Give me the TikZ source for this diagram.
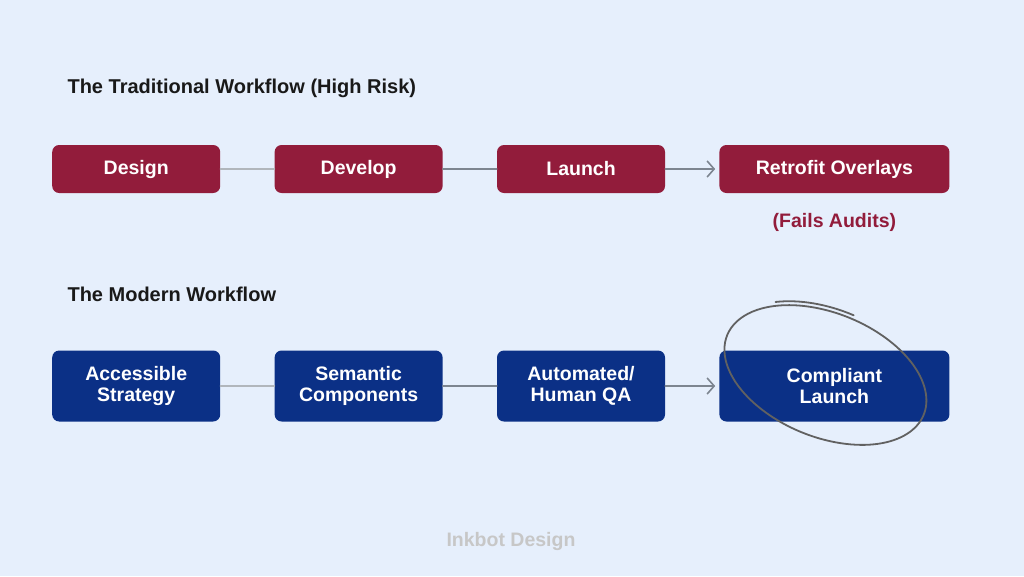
\documentclass[tikz,border=0pt]{standalone}
\usepackage{fontspec}
\setmainfont{Liberation Sans}
\usepackage{xcolor}
\usetikzlibrary{arrows.meta,positioning}
\definecolor{bgblue}{HTML}{E6EFFC}
\definecolor{oldred}{HTML}{921C3B}
\definecolor{newblue}{HTML}{0B3086}
\definecolor{penGray}{HTML}{7D8590}

\begin{document}
\begin{tikzpicture}[
  x=1pt, y=-1pt,
  node distance=6mm and 54pt,
  title/.style={anchor=west, font=\bfseries\fontsize{20}{24}\selectfont, text=black!90},
  oldbox/.style={fill=oldred, rounded corners=7pt, align=center, text=white, minimum width=168pt, minimum height=48pt, font=\bfseries\fontsize{19.5}{22}\selectfont},
  newbox/.style={fill=newblue, rounded corners=7pt, align=center, text=white, minimum width=168pt, minimum height=71pt, font=\bfseries\fontsize{19.5}{21}\selectfont},
  link/.style={draw=penGray, line width=1.6pt, line cap=round},
  arrow/.style={link, -{Straight Barb[length=7pt, width=16pt, line width=1.6pt]}},
  ring/.style={draw=black!62, line width=1.8pt, line cap=round}
]
\useasboundingbox[fill=bgblue] (0,0) rectangle (1024,576);

\node[title] (oldtitle) at (64,88) {The Traditional Workflow (High Risk)};
\node[oldbox, anchor=west] (design) at (52,169) {Design};
\node[oldbox, right=of design] (develop) {Develop};
\node[oldbox, right=of develop] (launch) {Launch};
\node[oldbox, right=of launch, minimum width=230pt] (retrofit) {Retrofit Overlays};
\node[font=\bfseries\fontsize{19.5}{22}\selectfont, text=oldred, below=17pt of retrofit] (fails) {(Fails Audits)};

\node[title] (newtitle) at (64,294) {The Modern Workflow};
\node[newbox, anchor=west] (strategy) at (52,386) {Accessible\\Strategy};
\node[newbox, right=of strategy] (components) {Semantic\\Components};
\node[newbox, right=of components] (qa) {Automated/\\Human QA};
\node[newbox, right=of qa, minimum width=230pt] (compliant) {Compliant\\Launch};

\node[font=\bfseries\fontsize{19.5}{22}\selectfont, text=black!22] (brand) at (511,541) {Inkbot Design};

\draw[link, draw=penGray!60] (design) -- (develop);
\draw[link] (develop) -- (launch);
\draw[arrow] (launch.east) -- ([xshift=-4pt]retrofit.west);
\draw[link, draw=penGray!60] (strategy) -- (components);
\draw[link] (components) -- (qa);
\draw[arrow] (qa.east) -- ([xshift=-4pt]compliant.west);

% hand drawn ring round the last step
\coordinate (ringc) at ([shift={(-9,-11)}]compliant.center);
\draw[ring, shift={(ringc)}, rotate=-22]
  (-112:106 and 62) arc[start angle=-112, end angle=250, x radius=106, y radius=62];
\draw[ring, shift={(ringc)}, rotate=-22]
  (-132:110 and 66) arc[start angle=-132, end angle=-88, x radius=110, y radius=66];
\end{tikzpicture}
\end{document}
